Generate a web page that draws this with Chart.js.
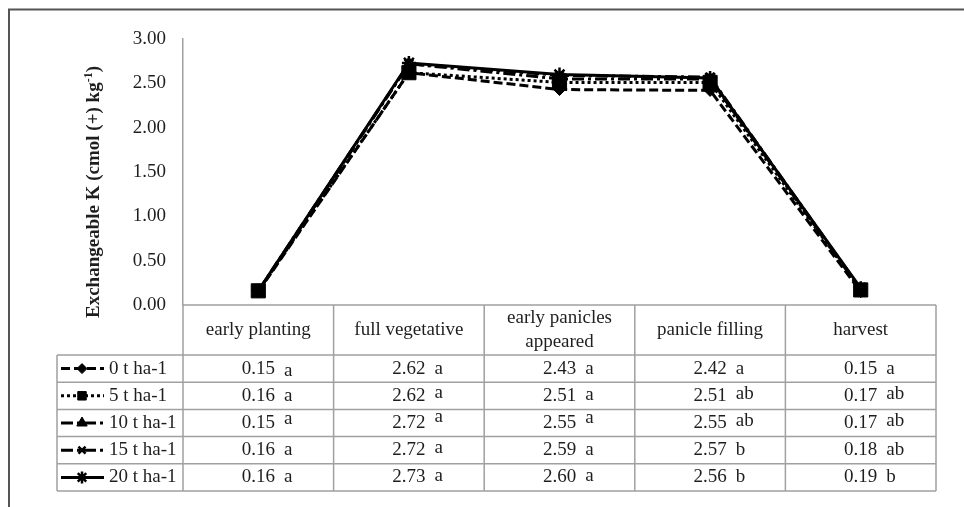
<!DOCTYPE html>
<html>
<head>
<meta charset="utf-8">
<script src="https://cdn.jsdelivr.net/npm/chart.js@4.4.1/dist/chart.umd.min.js"></script>
<style>
  html, body { margin: 0; padding: 0; background: #fff; }
  #wrap { width: 964px; height: 507px; }
</style>
</head>
<body>
<div id="wrap"><canvas id="chart" width="964" height="507"></canvas></div>
<script>
// Data (exchangeable K, cmol(+) kg-1)
const stages = ['early planting', 'full vegetative', ['early panicles', 'appeared'], 'panicle filling', 'harvest'];
const doses = ['0 t ha-1', '5 t ha-1', '10 t ha-1', '15 t ha-1', '20 t ha-1'];
const k0 = [0.15, 2.62, 2.43, 2.42, 0.15];
const k5 = [0.16, 2.62, 2.51, 2.51, 0.17];
const k10 = [0.15, 2.72, 2.55, 2.55, 0.17];
const k15 = [0.16, 2.72, 2.59, 2.57, 0.18];
const k20 = [0.16, 2.73, 2.60, 2.56, 0.19];
// significance letters
const sig0 = ['a', 'a', 'a', 'a', 'a'];
const sig5 = ['a', 'a', 'a', 'ab', 'ab'];
const sig10 = ['a', 'a', 'a', 'ab', 'ab'];
const sig15 = ['a', 'a', 'a', 'b', 'ab'];
const sig20 = ['a', 'a', 'a', 'b', 'b'];
const yTicks = [0, 0.5, 1, 1.5, 2, 2.5, 3];

const values = [k0, k5, k10, k15, k20];
const letters = [sig0, sig5, sig10, sig15, sig20];

// Line / marker styles per series
const looks = [
    { dash: [9, 4], point: 'rectRot', radius: 6, keyRadius: 5, bw: 1 },
    { dash: [3, 3], point: 'rect', radius: 10, keyRadius: 6, bw: 1 },
    { dash: [12, 4, 3, 4], point: 'triangle', radius: 7, keyRadius: 6, bw: 1 },
    { dash: [12, 4, 3, 4], point: 'crossRot', radius: 6, keyRadius: 5, bw: 2.5 },
    { dash: [], point: 'star', radius: 7, keyRadius: 6, bw: 2.5 }
];
// letters in the original sit a little raised in some cells (px up)
const letterLift = [
    [-2, 0, 0, 0, 0],
    [0, 3, 1, 2, 2],
    [4, 6, 5, 2, 2],
    [0, 2, 0, 0, 0],
    [0, 1, 1, 0, 0]
];

const FONT = '"Liberation Serif", "Times New Roman", serif';
const TEXT = '#1e1e1e';
const GRID = '#a0a0a0';

// Frame, y title and the data table under the plot
const tablePlugin = {
    id: 'tablePlugin',
    beforeDraw(chart) {
        const ctx = chart.ctx;
        ctx.save();
        ctx.strokeStyle = '#555';
        ctx.lineWidth = 2;
        ctx.beginPath();
        ctx.moveTo(9, 507);
        ctx.lineTo(9, 9.5);
        ctx.lineTo(964, 9.5);
        ctx.stroke();
        ctx.restore();
    },
    afterDraw(chart) {
        const ctx = chart.ctx;
        const area = chart.chartArea;
        const xs = chart.scales.x;
        const colW = (area.right - area.left) / stages.length;
        const top = area.bottom;
        const headH = 50;
        const rowH = 27.2;
        const keyLeft = 57;
        const bottom = top + headH + rowH * doses.length;

        ctx.save();
        // grid lines
        ctx.strokeStyle = GRID;
        ctx.lineWidth = 1.5;
        ctx.beginPath();
        ctx.moveTo(area.left, top);
        ctx.lineTo(area.right, top);
        for (let r = 0; r <= doses.length; r++) {
            const y = top + headH + r * rowH;
            ctx.moveTo(keyLeft, y);
            ctx.lineTo(area.right, y);
        }
        for (let c = 0; c <= stages.length; c++) {
            const x = area.left + c * colW;
            ctx.moveTo(x, top);
            ctx.lineTo(x, bottom);
        }
        ctx.moveTo(keyLeft, top + headH);
        ctx.lineTo(keyLeft, bottom);
        ctx.stroke();

        // header
        ctx.fillStyle = TEXT;
        ctx.font = '19px ' + FONT;
        ctx.textAlign = 'center';
        ctx.textBaseline = 'middle';
        stages.forEach((s, i) => {
            const cx = xs.getPixelForValue(i);
            const lines = Array.isArray(s) ? s : [s];
            lines.forEach((t, j) => {
                const y = top + headH / 2 + (j - (lines.length - 1) / 2) * 24;
                ctx.fillText(t, cx, y);
            });
        });

        // body rows
        values.forEach((row, r) => {
            const cy = top + headH + rowH * (r + 0.5);
            row.forEach((v, i) => {
                const cx = xs.getPixelForValue(i);
                const txt = v.toFixed(2);
                ctx.textAlign = 'center';
                ctx.fillText(txt, cx, cy);
                const w = ctx.measureText(txt).width;
                ctx.textAlign = 'left';
                ctx.fillText(letters[r][i], cx + w / 2 + 9, cy - letterLift[r][i]);
            });
            // legend key
            const lk = looks[r];
            ctx.save();
            ctx.strokeStyle = '#000';
            ctx.lineWidth = 3;
            ctx.setLineDash(lk.dash);
            ctx.beginPath();
            ctx.moveTo(61, cy);
            ctx.lineTo(104, cy);
            ctx.stroke();
            ctx.setLineDash([]);
            ctx.fillStyle = '#000';
            ctx.lineWidth = lk.bw;
            Chart.helpers.drawPoint(ctx, { pointStyle: lk.point, radius: lk.keyRadius, rotation: 0, borderWidth: lk.bw }, 82, cy);
            ctx.restore();
            ctx.textAlign = 'left';
            ctx.fillText(doses[r], 109, cy);
        });

        // y axis title with superscript
        ctx.translate(92, 192);
        ctx.rotate(-Math.PI / 2);
        ctx.textAlign = 'left';
        ctx.textBaseline = 'alphabetic';
        const main = 'Exchangeable K (cmol (+) kg';
        const sup = '-1';
        const tail = ')';
        ctx.font = 'bold 19px ' + FONT;
        const w1 = ctx.measureText(main).width;
        const w3 = ctx.measureText(tail).width;
        ctx.font = 'bold 12px ' + FONT;
        const w2 = ctx.measureText(sup).width;
        const x0 = -(w1 + w2 + w3) / 2;
        const base = 7;
        ctx.font = 'bold 19px ' + FONT;
        ctx.fillText(main, x0, base);
        ctx.font = 'bold 12px ' + FONT;
        ctx.fillText(sup, x0 + w1, base - 7);
        ctx.font = 'bold 19px ' + FONT;
        ctx.fillText(tail, x0 + w1 + w2, base);
        ctx.restore();
    }
};

const datasets = values.map((v, i) => ({
    label: doses[i],
    data: v,
    borderColor: '#000',
    borderWidth: 3,
    borderDash: looks[i].dash,
    backgroundColor: '#000',
    pointStyle: looks[i].point,
    pointRadius: looks[i].radius,
    pointBackgroundColor: '#000',
    pointBorderColor: '#000',
    pointBorderWidth: looks[i].bw,
    tension: 0,
    order: doses.length - i
}));

new Chart(document.getElementById('chart'), {
    type: 'line',
    data: { labels: stages, datasets: datasets },
    options: {
        responsive: false,
        animation: false,
        devicePixelRatio: 1,
        layout: { padding: { top: 39, right: 28, bottom: 202, left: 0 } },
        plugins: {
            legend: { display: false },
            tooltip: { enabled: false }
        },
        scales: {
            x: {
                type: 'category',
                display: false,
                offset: true
            },
            y: {
                min: yTicks[0],
                max: yTicks[yTicks.length - 1],
                afterFit: s => { s.width = 183; },
                afterBuildTicks: s => { s.ticks = yTicks.map(v => ({ value: v })); },
                grid: { display: false, drawTicks: false },
                border: { display: true, color: GRID, width: 1.5 },
                ticks: {
                    padding: 17,
                    color: TEXT,
                    font: { family: FONT, size: 19 },
                    callback: v => v.toFixed(2)
                }
            }
        }
    },
    plugins: [tablePlugin]
});
</script>
</body>
</html>
